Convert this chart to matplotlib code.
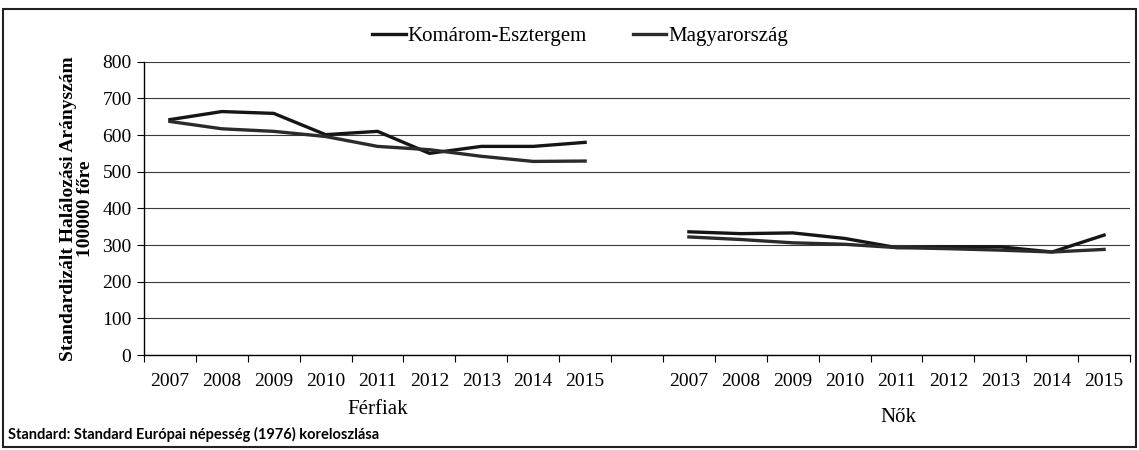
import numpy as np
import matplotlib.pyplot as plt
from matplotlib.patches import Rectangle

# data
years = ['2007', '2008', '2009', '2010', '2011', '2012', '2013', '2014', '2015']
groups = ['Férfiak', 'Nők']
series_names = ['Komárom-Esztergem', 'Magyarország']

ferfi_kom = [642, 664, 659, 601, 610, 550, 569, 569, 580]
ferfi_hu = [637, 617, 610, 596, 569, 560, 542, 528, 529]
no_kom = [336, 331, 333, 318, 293, 295, 295, 281, 327]
no_hu = [322, 315, 306, 302, 293, 290, 286, 281, 288]

yticks = list(range(0, 801, 100))

plt.rcParams['font.family'] = ['Liberation Serif', 'DejaVu Serif']

fig = plt.figure(figsize=(11.39, 4.5), dpi=100)
W, H = 1139, 450

# axes placed in pixel terms of the original
x0, x1 = 144, 1130
ytop, ybot = 61.7, 355
ax = fig.add_axes([x0 / W, 1 - ybot / H, (x1 - x0) / W, (ybot - ytop) / H])

n = len(years)
pos_f = np.arange(n)
pos_n = np.arange(n) + n + 1

colors = ['#151515', '#2b2b2b']
lw = 2.4
ax.plot(pos_f, ferfi_kom, color=colors[0], lw=lw, label=series_names[0], zorder=3)
ax.plot(pos_f, ferfi_hu, color=colors[1], lw=lw, label=series_names[1], zorder=3)
ax.plot(pos_n, no_kom, color=colors[0], lw=lw, zorder=3)
ax.plot(pos_n, no_hu, color=colors[1], lw=lw, zorder=3)

ax.set_xlim(-0.5, 2 * n + 0.5)
ax.set_ylim(0, 800)
ax.set_yticks(yticks)
ax.set_yticklabels([str(v) for v in yticks], fontsize=14)
ax.yaxis.grid(True, color='#3a3a3a', lw=0.8)
ax.set_axisbelow(True)

all_pos = list(pos_f) + list(pos_n)
ax.set_xticks(all_pos)
ax.set_xticklabels(years + years, fontsize=14)
ax.set_xticks(np.arange(-0.5, 2 * n + 1, 1), minor=True)
ax.tick_params(axis='x', which='major', length=0, pad=13)
ax.tick_params(axis='x', which='minor', length=5, direction='out', width=0.8)
ax.tick_params(axis='y', length=5, direction='out', width=0.8, pad=4)

for s in ['top', 'right']:
    ax.spines[s].set_visible(False)
ax.spines['left'].set_linewidth(1.0)
ax.spines['bottom'].set_linewidth(1.0)

ax.set_ylabel('Standardizált Halálozási Arányszám\n100000 főre', fontsize=14,
              fontweight='bold', labelpad=6, linespacing=1.0)

# group labels under the year labels
fig.text((x0 + 26 + 4 * 52) / W, 1 - 410 / H, groups[0], ha='center', va='center', fontsize=15)
fig.text((x0 + 26 + 14 * 52) / W, 1 - 418 / H, groups[1], ha='center', va='center', fontsize=15)

# legend on top
fig.legend(loc='center', bbox_to_anchor=(580 / W, 1 - 36 / H), ncol=2, frameon=False,
           fontsize=15, handlelength=1.6, handletextpad=0.1, columnspacing=2.2)

fig.text(8 / W, 1 - 434 / H, 'Standard: Standard Európai népesség (1976) koreloszlása',
         family=['Lato', 'DejaVu Sans'], fontweight='bold', fontsize=10.5, ha='left', va='center')

# outer frame
fig.patches.append(Rectangle((3 / W, 1 - 447 / H), 1133 / W, 438 / H, transform=fig.transFigure,
                             fill=False, edgecolor='#222222', lw=1.5))

fig.savefig('out.png', dpi=100)
